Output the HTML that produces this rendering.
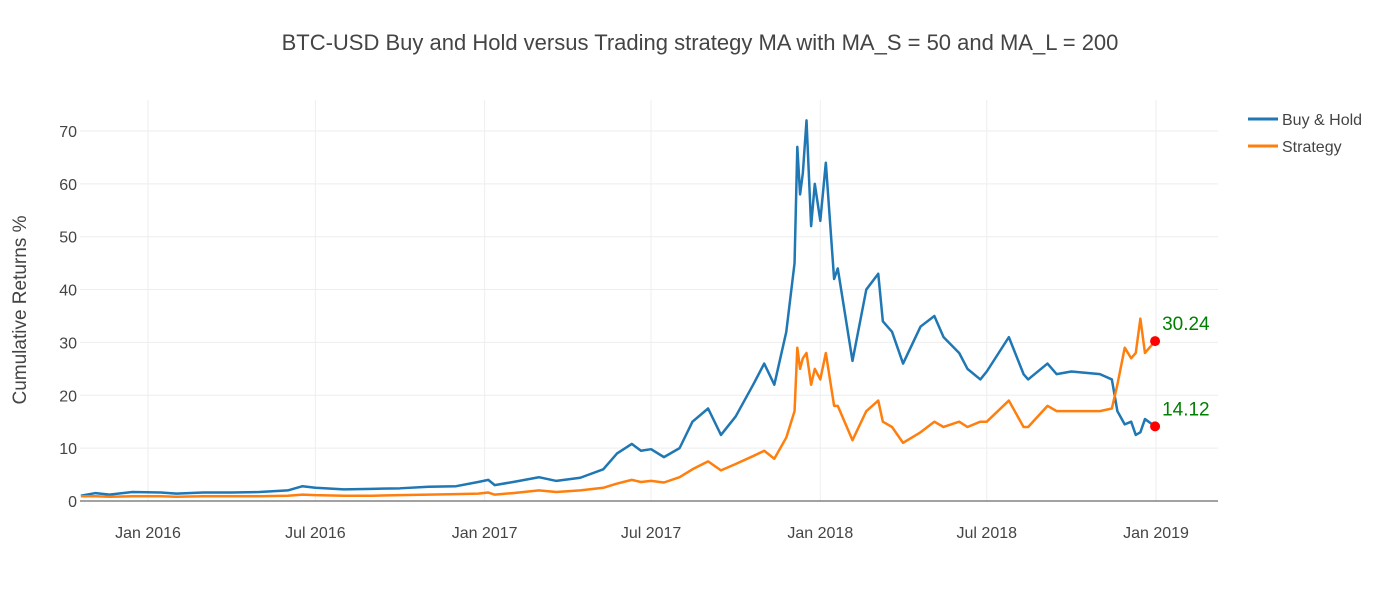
<!DOCTYPE html>
<html><head><meta charset="utf-8">
<style>
body{margin:0;background:#fff;font-family:"Liberation Sans",sans-serif;}
svg text{font-family:"Liberation Sans",sans-serif;}
</style></head>
<body>
<svg id="chart" width="1400" height="600" xmlns="http://www.w3.org/2000/svg">
<text x="700" y="50" text-anchor="middle" font-size="22" fill="#444">BTC-USD Buy and Hold versus Trading strategy MA with MA_S = 50 and MA_L = 200</text>
<text transform="translate(26,310) rotate(-90)" text-anchor="middle" font-size="19" fill="#444">Cumulative Returns %</text>
<g id="grid"></g>
<g id="series"></g>
<g>
<g><line x1="1248" y1="119" x2="1278" y2="119" stroke="#1f77b4" stroke-width="3"/><text x="1282" y="125" font-size="16" fill="#444">Buy &amp; Hold</text></g>
<g><line x1="1248" y1="146" x2="1278" y2="146" stroke="#ff7f0e" stroke-width="3"/><text x="1282" y="152" font-size="16" fill="#444">Strategy</text></g>
</g>
</svg>
<script>
const dates=["2015-10-20","2015-11-05","2015-11-20","2015-12-15","2016-01-15","2016-02-01","2016-03-01","2016-04-01","2016-05-01","2016-06-01","2016-06-17","2016-07-01","2016-08-01","2016-09-01","2016-10-01","2016-11-01","2016-12-01","2016-12-25","2017-01-05","2017-01-12","2017-02-01","2017-03-01","2017-03-20","2017-04-15","2017-05-10","2017-05-25","2017-06-10","2017-06-20","2017-07-01","2017-07-15","2017-08-01","2017-08-15","2017-09-01","2017-09-15","2017-10-01","2017-10-20","2017-11-01","2017-11-12","2017-11-25","2017-12-04","2017-12-07","2017-12-10","2017-12-13","2017-12-17","2017-12-22","2017-12-26","2018-01-01","2018-01-07","2018-01-16","2018-01-20","2018-02-05","2018-02-20","2018-03-05","2018-03-10","2018-03-20","2018-04-01","2018-04-20","2018-05-05","2018-05-15","2018-06-01","2018-06-10","2018-06-24","2018-07-01","2018-07-25","2018-08-10","2018-08-15","2018-09-05","2018-09-15","2018-10-01","2018-11-01","2018-11-14","2018-11-20","2018-11-28","2018-12-05","2018-12-10","2018-12-15","2018-12-20","2018-12-31"];
const buyHold=[1.0,1.5,1.2,1.7,1.6,1.4,1.6,1.6,1.7,2.0,2.8,2.5,2.2,2.3,2.4,2.7,2.8,3.6,4.0,3.0,3.6,4.5,3.8,4.4,6.0,9.0,10.8,9.5,9.8,8.3,10.0,15.0,17.5,12.5,16,22,26,22,32,45,67,58,62,72,52,60,53,64,42,44,26.5,40,43,34,32,26,33,35,31,28,25,23,24.5,31,24,23,26,24,24.5,24,23,17,14.5,15,12.5,13,15.5,14.12];
const strategy=[0.9,0.9,0.8,0.9,0.9,0.8,0.9,0.9,0.9,1.0,1.2,1.1,1.0,1.0,1.1,1.2,1.3,1.4,1.6,1.2,1.5,2.0,1.7,2.0,2.5,3.3,4.0,3.6,3.8,3.5,4.5,6.0,7.5,5.8,7.0,8.5,9.5,8.0,12,17,29,25,27,28,22,25,23,28,18,18,11.5,17,19,15,14,11,13,15,14,15,14,15,15,19,14,14,18,17,17,17,17.5,22,29,27,28,34.5,28,30.24];
const yTicks=[0,10,20,30,40,50,60,70];
const xTickDates=["2016-01-01","2016-07-01","2017-01-01","2017-07-01","2018-01-01","2018-07-01","2019-01-01"];
const xTickLabels=["Jan 2016","Jul 2016","Jan 2017","Jul 2017","Jan 2018","Jul 2018","Jan 2019"];
const L=80,R=1218,T=100,B=501;
const t0=Date.parse("2016-01-01"),pxDay=1008/1096;
const x=d=>148+(Date.parse(d)-t0)/86400000*pxDay;
const y=v=>501-v*5.286;
const NS="http://www.w3.org/2000/svg";
const grid=document.getElementById('grid'),ser=document.getElementById('series'),svg=document.getElementById('chart');
function mk(tag,a,p){const e=document.createElementNS(NS,tag);for(const k in a)e.setAttribute(k,a[k]);p.appendChild(e);return e;}
yTicks.forEach(v=>{
 if(v>0){const g=mk('line',{x1:L,x2:R,y1:y(v),y2:y(v),stroke:'#eee','stroke-width':1},grid);
 
 }
 const t=mk('text',{x:L-3,y:y(v)+6,'text-anchor':'end','font-size':16,fill:'#444'},svg);t.textContent=v;
 
 
});
xTickDates.forEach((d,i)=>{
 const g=mk('line',{x1:x(d),x2:x(d),y1:T,y2:B,stroke:'#eee','stroke-width':1},grid);
 
 
 const t=mk('text',{x:x(d),y:538,'text-anchor':'middle','font-size':16,fill:'#444'},svg);t.textContent=xTickLabels[i];
 
 
});
const z=mk('line',{x1:L,x2:R,y1:y(0),y2:y(0),stroke:'#444','stroke-width':1},grid);


function line(vals,col,name){
 const p=mk('polyline',{points:vals.map((v,i)=>x(dates[i])+','+y(v)).join(' '),fill:'none',stroke:col,'stroke-width':2.5,'stroke-linejoin':'round'},ser);
 
 
}
line(buyHold,'#1f77b4','buy-hold-line');
line(strategy,'#ff7f0e','strategy-line');
[[buyHold,'buy-hold'],[strategy,'strategy']].forEach(([vals,n])=>{
 const v=vals[vals.length-1],d=dates[dates.length-1];
 const c=mk('circle',{cx:x(d),cy:y(v),r:5,fill:'red'},ser);
 
 
 const t=mk('text',{x:x(d)+7,y:y(v)-11,'font-size':19,fill:'green'},ser);t.textContent=v.toFixed(2);
 
 
});
</script>
</body></html>
